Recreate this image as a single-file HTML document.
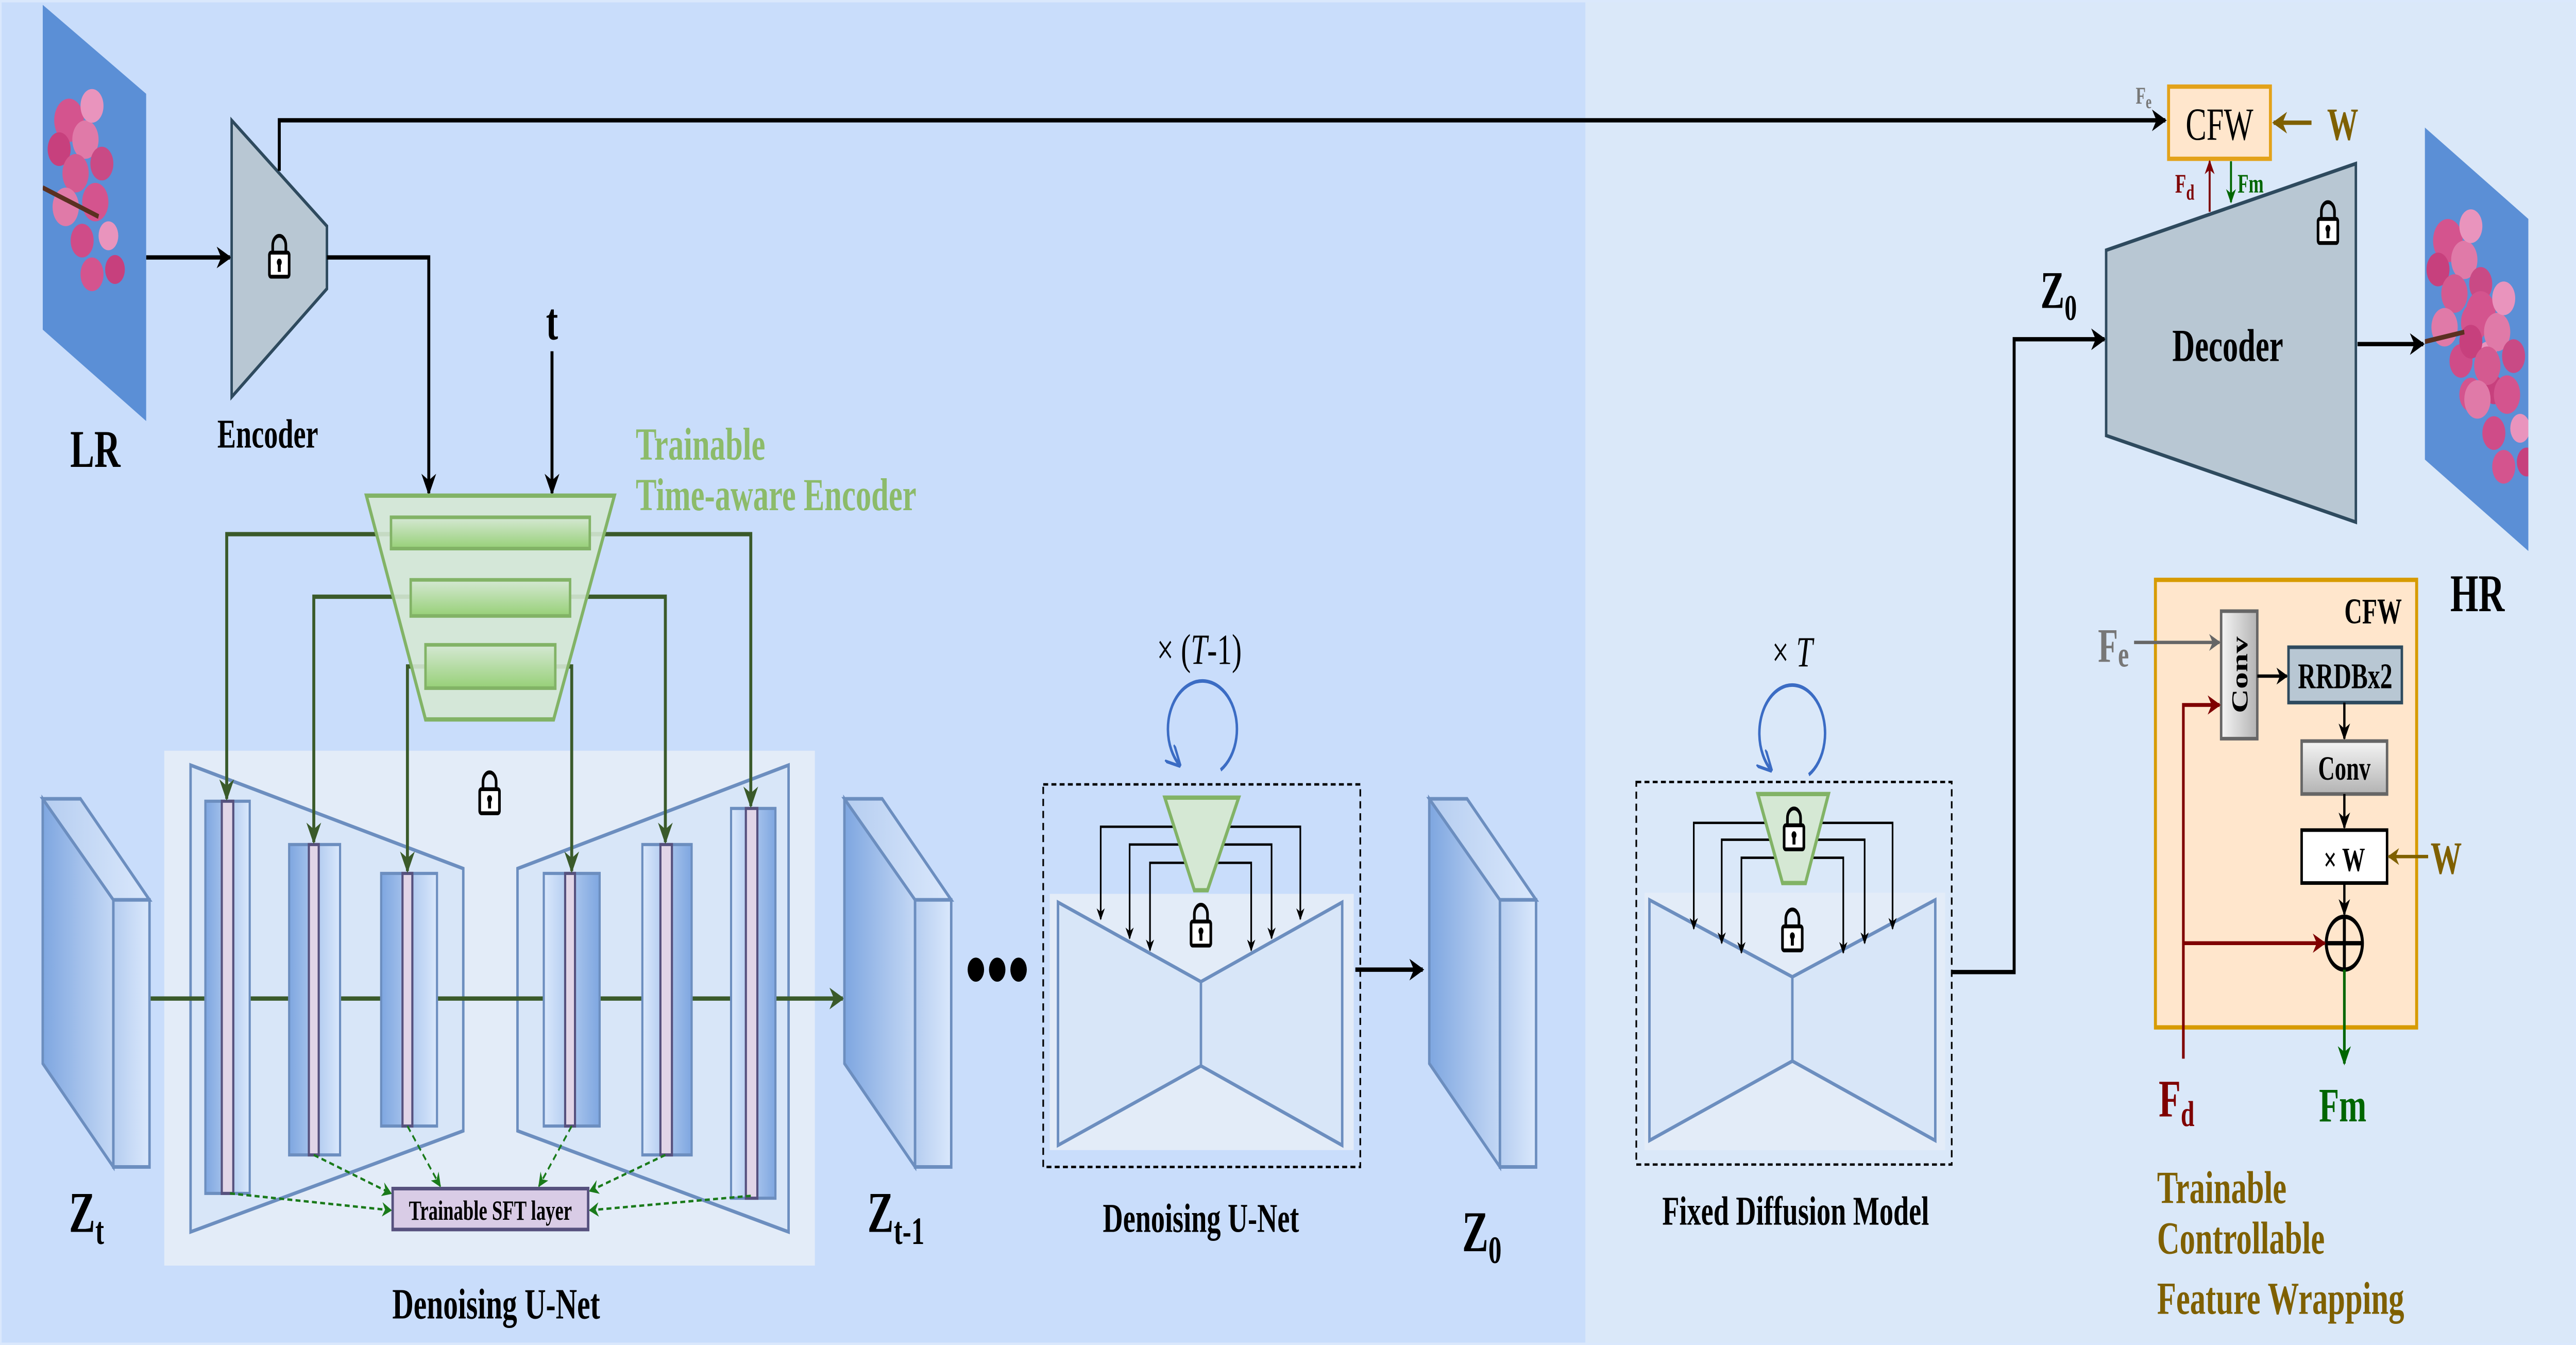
<!DOCTYPE html>
<html><head><meta charset="utf-8"><meta name="viewport" content="width=7320"><style>
html,body{margin:0;padding:0;background:#c9ddfb;overflow:hidden;width:100vw;height:100vh;}
svg{display:block;width:100vw;height:100vh;}
text{font-family:"Liberation Serif",serif;}
</style></head><body>
<svg viewBox="0 0 1568 559" preserveAspectRatio="none" xmlns="http://www.w3.org/2000/svg">
<defs>
<marker id="mk" viewBox="0 0 10 10" refX="9" refY="5" markerWidth="5" markerHeight="5" orient="auto"><path d="M0,0L10,5L0,10L3,5z" fill="#000"/></marker>
<marker id="mg" viewBox="0 0 10 10" refX="9" refY="5" markerWidth="5" markerHeight="5" orient="auto"><path d="M0,0L10,5L0,10L3,5z" fill="#3a5a2a"/></marker>
<marker id="mgd" viewBox="0 0 10 10" refX="9" refY="5" markerWidth="6" markerHeight="6" orient="auto"><path d="M0,0L10,5L0,10L3,5z" fill="#1a7a1a"/></marker>
<marker id="mr" viewBox="0 0 10 10" refX="9" refY="5" markerWidth="5" markerHeight="5" orient="auto"><path d="M0,0L10,5L0,10L3,5z" fill="#7f0000"/></marker>
<marker id="mfm" viewBox="0 0 10 10" refX="9" refY="5" markerWidth="5" markerHeight="5" orient="auto"><path d="M0,0L10,5L0,10L3,5z" fill="#006600"/></marker>
<marker id="mgr" viewBox="0 0 10 10" refX="9" refY="5" markerWidth="5" markerHeight="5" orient="auto"><path d="M0,0L10,5L0,10L3,5z" fill="#666"/></marker>
<marker id="mw" viewBox="0 0 10 10" refX="9" refY="5" markerWidth="5" markerHeight="5" orient="auto"><path d="M0,0L10,5L0,10L3,5z" fill="#7f6000"/></marker>
<marker id="mb" viewBox="0 0 10 10" refX="9" refY="5" markerWidth="6" markerHeight="6" orient="auto"><path d="M0,0L10,5L0,10" fill="none" stroke="#3b6cc4" stroke-width="1.5"/></marker>
<linearGradient id="slab" x1="0" x2="1" y1="0" y2="0"><stop offset="0" stop-color="#7ea6e0"/><stop offset="1" stop-color="#c4d8f5"/></linearGradient>
<linearGradient id="slabf" x1="0" x2="1"><stop offset="0" stop-color="#b5cdf0"/><stop offset="1" stop-color="#dae8fc"/></linearGradient>
<linearGradient id="blkL" x1="0" x2="1"><stop offset="0" stop-color="#7ea6e0"/><stop offset="1" stop-color="#dae8fc"/></linearGradient>
<linearGradient id="blkR" x1="0" x2="1"><stop offset="0" stop-color="#dae8fc"/><stop offset="1" stop-color="#7ea6e0"/></linearGradient>
<linearGradient id="gbar" x1="0" x2="0" y1="0" y2="1"><stop offset="0" stop-color="#d5e8d4"/><stop offset="1" stop-color="#97d077"/></linearGradient>
<linearGradient id="gray" x1="0" x2="1"><stop offset="0" stop-color="#f5f5f5"/><stop offset="1" stop-color="#b3b3b3"/></linearGradient>
<linearGradient id="grayv" x1="0" x2="0" y1="0" y2="1"><stop offset="0" stop-color="#f5f5f5"/><stop offset="1" stop-color="#b3b3b3"/></linearGradient>
<g id="lock"><path d="M-4,-1V-4A4,4 0 0 1 4,-4V-1" fill="none" stroke="#000" stroke-width="1.6"/><rect x="-6" y="-1" width="12" height="10" rx="1" fill="#fff" stroke="#000" stroke-width="1.6"/><circle cx="0" cy="3" r="1.5" fill="#000"/><rect x="-0.9" y="3" width="1.8" height="4" fill="#000"/></g>
<clipPath id="lrc"><polygon points="26,2 89,39 89,175 26,137"/></clipPath>
<clipPath id="hrc"><polygon points="1476,53 1539,91 1539,229 1476,191"/></clipPath>
<g id="flowers">
<circle cx="0" cy="0" r="9" fill="#d4548e"/><circle cx="10" cy="8" r="8" fill="#e07aa8"/><circle cx="-6" cy="12" r="7" fill="#c7407d"/><circle cx="14" cy="-6" r="7" fill="#e994bd"/><circle cx="4" cy="22" r="8" fill="#d45a90"/><circle cx="20" cy="18" r="7" fill="#c94a85"/><circle cx="-2" cy="36" r="8" fill="#e07aa8"/><circle cx="16" cy="34" r="8" fill="#d4548e"/><circle cx="8" cy="50" r="7" fill="#cf4c88"/><circle cx="24" cy="48" r="6" fill="#e994bd"/><circle cx="14" cy="64" r="7" fill="#d4548e"/><circle cx="28" cy="62" r="6" fill="#c7407d"/>
</g>
</defs>

<rect x="0" y="0" width="965" height="559" fill="#c9ddfb"/>
<rect x="965" y="0" width="603" height="559" fill="#dae8f9"/>
<rect x="0.5" y="0.5" width="1567" height="558" fill="none" stroke="#dae8fc" stroke-width="1"/>

<g clip-path="url(#lrc)"><rect x="20" y="0" width="80" height="180" fill="#5b8fd6"/><use href="#flowers" x="42" y="50"/><path d="M26,78 L60,90" stroke="#5a3020" stroke-width="2"/></g>
<text x="58" y="194" font-size="22" font-weight="bold" text-anchor="middle">LR</text>
<line x1="89" y1="107" x2="140" y2="107" stroke="#000" stroke-width="1.8" marker-end="url(#mk)"/>

<polygon points="141,50 199,94 199,120 141,165" fill="#b8c7d3" stroke="#2e4a5e" stroke-width="1.5"/>
<use href="#lock" x="170" y="106"/>
<text x="163" y="186" font-size="17" font-weight="bold" text-anchor="middle">Encoder</text>
<polyline points="170,71 170,50 1318,50" fill="none" stroke="#000" stroke-width="1.8" marker-end="url(#mk)"/>
<polyline points="199,107 261,107 261,205" fill="none" stroke="#000" stroke-width="1.8" marker-end="url(#mk)"/>
<text x="336" y="141" font-size="22" font-weight="bold" text-anchor="middle">t</text>
<line x1="336" y1="146" x2="336" y2="205" stroke="#000" stroke-width="1.8" marker-end="url(#mk)"/>

<text x="387" y="191" font-size="19" font-weight="bold" fill="#8cbb6a">Trainable</text>
<text x="387" y="212" font-size="19" font-weight="bold" fill="#8cbb6a">Time-aware Encoder</text>

<rect x="100" y="312" width="396" height="214" fill="#e3ecf8"/>
<polygon points="116,318 282,361 282,470 116,512" fill="#d8e6f8" stroke="#6c8ebf" stroke-width="1.5"/>
<polygon points="315,361 480,318 480,512 315,470" fill="#d8e6f8" stroke="#6c8ebf" stroke-width="1.5"/>
<use href="#lock" x="298" y="329"/>
<line x1="91" y1="415" x2="513" y2="415" stroke="#3a5a2a" stroke-width="1.8" marker-end="url(#mg)"/>

<g stroke="#6c8ebf" stroke-width="1.3">
<rect x="125" y="333" width="27" height="163" fill="url(#blkL)"/>
<rect x="176" y="351" width="31" height="129" fill="url(#blkL)"/>
<rect x="232" y="363" width="34" height="105" fill="url(#blkL)"/>
<rect x="331" y="363" width="34" height="105" fill="url(#blkR)"/>
<rect x="391" y="351" width="30" height="129" fill="url(#blkR)"/>
<rect x="445" y="336" width="27" height="162" fill="url(#blkR)"/>
</g>
<g stroke="#56517e" stroke-width="1.3" fill="#e1d5e7">
<rect x="135" y="333" width="7" height="163"/>
<rect x="188" y="351" width="6" height="129"/>
<rect x="245" y="363" width="6" height="105"/>
<rect x="344" y="363" width="6" height="105"/>
<rect x="402" y="351" width="7" height="129"/>
<rect x="454" y="336" width="7" height="162"/>
</g>

<g stroke="#3a5a2a" stroke-width="1.8" fill="none">
<polyline points="238,222 138,222 138,332" marker-end="url(#mg)"/>
<polyline points="359,222 457,222 457,335" marker-end="url(#mg)"/>
<polyline points="250,248 191,248 191,350" marker-end="url(#mg)"/>
<polyline points="347,248 405,248 405,350" marker-end="url(#mg)"/>
<polyline points="259,277 248,277 248,362" marker-end="url(#mg)"/>
<polyline points="338,277 348,277 348,362" marker-end="url(#mg)"/>
</g>
<polygon points="223,206 374,206 337,299 259,299" fill="#d5e8d4" fill-opacity="0.9" stroke="#82b366" stroke-width="1.8"/>
<g stroke="#82b366" stroke-width="1.5" fill="url(#gbar)">
<rect x="238" y="215" width="121" height="13"/>
<rect x="250" y="241" width="97" height="15"/>
<rect x="259" y="268" width="79" height="18"/>
</g>

<g stroke="#1a7a1a" stroke-width="1" stroke-dasharray="3,2" fill="none">
<line x1="140" y1="496" x2="238" y2="503" marker-end="url(#mgd)"/>
<line x1="191" y1="480" x2="238" y2="496" marker-end="url(#mgd)"/>
<line x1="248" y1="468" x2="268" y2="493" marker-end="url(#mgd)"/>
<line x1="348" y1="468" x2="328" y2="493" marker-end="url(#mgd)"/>
<line x1="405" y1="480" x2="359" y2="495" marker-end="url(#mgd)"/>
<line x1="457" y1="497" x2="359" y2="503" marker-end="url(#mgd)"/>
</g>
<rect x="239" y="494" width="119" height="17" fill="#d9cce6" stroke="#56517e" stroke-width="1.5"/>
<text x="298.5" y="507" font-size="11.5" font-weight="bold" text-anchor="middle">Trainable SFT layer</text>
<text x="302" y="548" font-size="18" font-weight="bold" text-anchor="middle">Denoising U-Net</text>

<g stroke="#6c8ebf" stroke-width="1.5">
<polygon points="26,332 69,374 69,485 26,442" fill="url(#slab)"/>
<polygon points="26,332 49,332 91,374 69,374" fill="url(#slabf)"/>
<rect x="69" y="374" width="22" height="111" fill="url(#slabf)"/>
<polygon points="514,332 557,374 557,485 514,442" fill="url(#slab)"/>
<polygon points="514,332 537,332 579,374 557,374" fill="url(#slabf)"/>
<rect x="557" y="374" width="22" height="111" fill="url(#slabf)"/>
<polygon points="870,332 913,374 913,485 870,442" fill="url(#slab)"/>
<polygon points="870,332 893,332 935,374 913,374" fill="url(#slabf)"/>
<rect x="913" y="374" width="22" height="111" fill="url(#slabf)"/>
</g>
<text x="42" y="512" font-size="24" font-weight="bold">Z<tspan font-size="16" dy="5">t</tspan></text>
<text x="528" y="512" font-size="24" font-weight="bold">Z<tspan font-size="16" dy="5">t-1</tspan></text>
<text x="890" y="520" font-size="24" font-weight="bold">Z<tspan font-size="16" dy="5">0</tspan></text>

<circle cx="594" cy="403" r="5" fill="#000"/><circle cx="607" cy="403" r="5" fill="#000"/><circle cx="620" cy="403" r="5" fill="#000"/>

<rect x="635" y="326" width="193" height="159" fill="none" stroke="#000" stroke-width="1" stroke-dasharray="3,2"/>
<rect x="639" y="371.5" width="185" height="106.5" fill="#e3ecf8"/>
<polygon points="644,375 731,408 817,375 817,476 731,443 644,476" fill="#d8e6f8" stroke="#6c8ebf" stroke-width="1.5"/>
<line x1="731" y1="408" x2="731" y2="443" stroke="#6c8ebf" stroke-width="1.5"/>
<g stroke="#000" stroke-width="1" fill="none">
<polyline points="715,343.6 670,343.6 670,382" marker-end="url(#mk)"/>
<polyline points="748,343.6 791.5,343.6 791.5,382" marker-end="url(#mk)"/>
<polyline points="719,351 687.6,351 687.6,390" marker-end="url(#mk)"/>
<polyline points="744,351 774,351 774,390" marker-end="url(#mk)"/>
<polyline points="722,358.6 700,358.6 700,395" marker-end="url(#mk)"/>
<polyline points="741,358.6 761.6,358.6 761.6,395" marker-end="url(#mk)"/>
</g>
<polygon points="709,331.5 754,331.5 735,370 727,370" fill="#d5e8d4" stroke="#82b366" stroke-width="1.8"/>
<use href="#lock" x="731" y="384"/>
<path d="M743,320 A21,20 0 1 0 718,318" fill="none" stroke="#3b6cc4" stroke-width="1.5" marker-end="url(#mb)"/>
<text x="730" y="276" font-size="18" text-anchor="middle">× (<tspan font-style="italic">T</tspan>-1)</text>
<line x1="825" y1="403" x2="866" y2="403" stroke="#000" stroke-width="1.8" marker-end="url(#mk)"/>
<text x="731" y="512" font-size="17" font-weight="bold" text-anchor="middle">Denoising U-Net</text>

<rect x="996" y="325" width="192" height="159" fill="none" stroke="#000" stroke-width="1" stroke-dasharray="3,2"/>
<rect x="1001" y="371" width="183" height="107" fill="#e3ecf8"/>
<polygon points="1004,374 1091,406 1178,374 1178,474 1091,441 1004,474" fill="#d8e6f8" stroke="#6c8ebf" stroke-width="1.5"/>
<line x1="1091" y1="406" x2="1091" y2="441" stroke="#6c8ebf" stroke-width="1.5"/>
<g stroke="#000" stroke-width="1" fill="none">
<polyline points="1075,342 1031,342 1031,386" marker-end="url(#mk)"/>
<polyline points="1108,342 1152,342 1152,386" marker-end="url(#mk)"/>
<polyline points="1078,349 1048,349 1048,392" marker-end="url(#mk)"/>
<polyline points="1104,349 1135,349 1135,392" marker-end="url(#mk)"/>
<polyline points="1081,356.5 1060,356.5 1060,396" marker-end="url(#mk)"/>
<polyline points="1101,356.5 1122,356.5 1122,396" marker-end="url(#mk)"/>
</g>
<polygon points="1070,330 1113,330 1099,367 1085,367" fill="#d5e8d4" stroke="#82b366" stroke-width="1.8"/>
<use href="#lock" x="1092" y="344"/>
<use href="#lock" x="1091" y="386"/>
<path d="M1101,322 A20,20 0 1 0 1078,320" fill="none" stroke="#3b6cc4" stroke-width="1.5" marker-end="url(#mb)"/>
<text x="1091" y="277" font-size="18" text-anchor="middle">× <tspan font-style="italic">T</tspan></text>
<text x="1093" y="509" font-size="17" font-weight="bold" text-anchor="middle">Fixed Diffusion Model</text>
<polyline points="1188,404 1226,404 1226,141 1281,141" fill="none" stroke="#000" stroke-width="1.8" marker-end="url(#mk)"/>

<polygon points="1282,104 1434,68 1434,217 1282,181" fill="#b8c7d3" stroke="#2e4a5e" stroke-width="1.5"/>
<text x="1356" y="150" font-size="19" font-weight="bold" text-anchor="middle">Decoder</text>
<use href="#lock" x="1417" y="92"/>
<text x="1242" y="128" font-size="22" font-weight="bold">Z<tspan font-size="15" dy="5">0</tspan></text>
<line x1="1435" y1="143" x2="1475" y2="143" stroke="#000" stroke-width="1.8" marker-end="url(#mk)"/>

<g clip-path="url(#hrc)"><rect x="1470" y="50" width="75" height="185" fill="#5b8fd6"/><use href="#flowers" x="1490" y="100"/><use href="#flowers" x="1510" y="130"/><path d="M1476,142 L1500,138" stroke="#5a3020" stroke-width="2"/></g>
<text x="1508" y="254" font-size="22" font-weight="bold" text-anchor="middle">HR</text>

<rect x="1320" y="36" width="62" height="30" fill="#ffe6cc" stroke="#e3a21a" stroke-width="1.8"/>
<text x="1351" y="58" font-size="19" text-anchor="middle">CFW</text>
<text x="1300" y="43" font-size="10" font-weight="bold" fill="#777">F<tspan font-size="8" dy="2">e</tspan></text>
<line x1="1407" y1="51" x2="1384" y2="51" stroke="#7f6000" stroke-width="1.8" marker-end="url(#mw)"/>
<text x="1426" y="58" font-size="19" font-weight="bold" fill="#7f6000" text-anchor="middle">W</text>
<line x1="1345" y1="88" x2="1345" y2="67" stroke="#7f0000" stroke-width="1.2" marker-end="url(#mr)"/>
<text x="1324" y="80" font-size="11" font-weight="bold" fill="#7f0000">F<tspan font-size="9" dy="3">d</tspan></text>
<line x1="1358" y1="67" x2="1358" y2="84" stroke="#006600" stroke-width="1.2" marker-end="url(#mfm)"/>
<text x="1362" y="80" font-size="11" font-weight="bold" fill="#006600">Fm</text>

<rect x="1312" y="241" width="159" height="186" fill="#ffe6cc" stroke="#d79b00" stroke-width="1.8"/>
<text x="1462" y="259" font-size="15" font-weight="bold" text-anchor="end">CFW</text>
<text x="1277" y="275" font-size="20" font-weight="bold" fill="#777">F<tspan font-size="15" dy="2">e</tspan></text>
<line x1="1299" y1="267" x2="1351" y2="267" stroke="#666" stroke-width="1.4" marker-end="url(#mgr)"/>
<rect x="1352" y="254" width="22" height="53" fill="url(#gray)" stroke="#666" stroke-width="1.5"/>
<text transform="translate(1368,280.5) rotate(-90)" font-size="14" font-weight="bold" text-anchor="middle">Conv</text>
<line x1="1374" y1="281" x2="1392" y2="281" stroke="#000" stroke-width="1.4" marker-end="url(#mk)"/>
<rect x="1393" y="269" width="69" height="23" fill="#b8c7d3" stroke="#2e4a5e" stroke-width="1.5"/>
<text x="1427.5" y="286" font-size="15" font-weight="bold" text-anchor="middle">RRDBx2</text>
<line x1="1427" y1="292" x2="1427" y2="307" stroke="#000" stroke-width="1.4" marker-end="url(#mk)"/>
<rect x="1401" y="308" width="52" height="22" fill="url(#grayv)" stroke="#666" stroke-width="1.5"/>
<text x="1427" y="324" font-size="14" font-weight="bold" text-anchor="middle">Conv</text>
<line x1="1427" y1="330" x2="1427" y2="344" stroke="#000" stroke-width="1.4" marker-end="url(#mk)"/>
<rect x="1401" y="345" width="52" height="22" fill="#fff" stroke="#000" stroke-width="1.5"/>
<text x="1427" y="362" font-size="14" font-weight="bold" text-anchor="middle">× W</text>
<line x1="1478" y1="356" x2="1454" y2="356" stroke="#7f6000" stroke-width="1.4" marker-end="url(#mw)"/>
<text x="1489" y="363" font-size="19" font-weight="bold" fill="#7f6000" text-anchor="middle">W</text>
<line x1="1427" y1="367" x2="1427" y2="380" stroke="#000" stroke-width="1.4" marker-end="url(#mk)"/>
<circle cx="1427" cy="392" r="11" fill="none" stroke="#000" stroke-width="1.8"/>
<line x1="1416" y1="392" x2="1438" y2="392" stroke="#000" stroke-width="1.8"/>
<line x1="1427" y1="381" x2="1427" y2="403" stroke="#000" stroke-width="1.8"/>
<polyline points="1329,440 1329,293 1351,293" fill="none" stroke="#7f0000" stroke-width="1.6" marker-end="url(#mr)"/>
<line x1="1329" y1="392" x2="1415" y2="392" stroke="#7f0000" stroke-width="1.6" marker-end="url(#mr)"/>
<line x1="1427" y1="403" x2="1427" y2="442" stroke="#006600" stroke-width="1.6" marker-end="url(#mfm)"/>
<text x="1314" y="464" font-size="22" font-weight="bold" fill="#7f0000">F<tspan font-size="15" dy="4">d</tspan></text>
<text x="1426" y="466" font-size="20" font-weight="bold" fill="#006600" text-anchor="middle">Fm</text>
<text x="1313" y="500" font-size="19" font-weight="bold" fill="#7f6000">Trainable</text>
<text x="1313" y="521" font-size="19" font-weight="bold" fill="#7f6000">Controllable</text>
<text x="1313" y="546" font-size="19" font-weight="bold" fill="#7f6000">Feature Wrapping</text>
</svg>
</body></html>
